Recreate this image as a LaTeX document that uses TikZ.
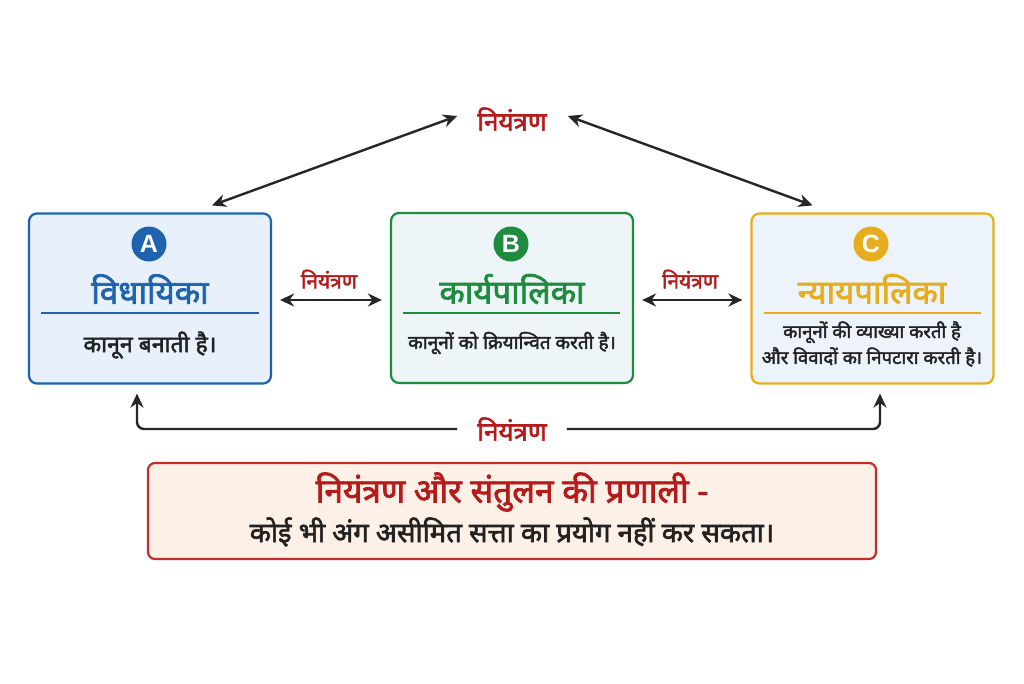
\documentclass[tikz,border=0pt]{standalone}
\usepackage{fontspec}
\setmainfont[Script=Devanagari, BoldFont={Noto Sans}, BoldFeatures={FakeBold=2.2}]{Noto Sans}
\newfontfamily\latin{Liberation Sans}
\usetikzlibrary{arrows.meta,positioning,calc}
\definecolor{blueB}{HTML}{1F63AE}
\definecolor{blueF}{HTML}{E8F1FB}
\definecolor{greenB}{HTML}{1E8B3F}
\definecolor{greenF}{HTML}{EEF5F8}
\definecolor{goldB}{HTML}{E6AE1E}
\definecolor{goldF}{HTML}{ECF3FA}
\definecolor{redT}{HTML}{B51B1B}
\definecolor{redB}{HTML}{C62A2A}
\definecolor{peach}{HTML}{FDF0E7}
\definecolor{txt}{HTML}{222222}
\tikzset{
  organ/.style={draw=#1, line width=2.2pt, rounded corners=8pt, minimum width=242pt, minimum height=170pt, inner sep=0pt},
  badge/.style={circle, fill=#1, minimum size=35pt, inner sep=0pt, text=white, font=\latin\bfseries\fontsize{25}{25}\selectfont},
  title/.style={text=#1, font=\bfseries\fontsize{33}{36}\selectfont, inner sep=0pt},
  desc/.style={text=txt, font=\bfseries\fontsize{19}{26}\selectfont, inner sep=0pt, align=center},
  ctl/.style={text=redT, font=\bfseries\fontsize{26}{28}\selectfont, inner sep=0pt},
  ctls/.style={text=redT, font=\bfseries\fontsize{21}{24}\selectfont, inner sep=0pt},
  dar/.style={{Stealth[length=14pt,width=13pt]}-{Stealth[length=14pt,width=13pt]}, line width=2.4pt, black!85},
  sar/.style={-{Stealth[length=14pt,width=13pt]}, line width=2.4pt, black!85},
}
\begin{document}
\begin{tikzpicture}[x=1pt,y=-1pt]
\useasboundingbox (0,0) rectangle (1024,683);
\fill[white] (0,0) rectangle (1024,683);
% boxes
\node[organ=blueB, fill=blueF] (A) at (150,298.5) {};
\node[organ=greenB, fill=greenF] (B) at (512,298) {};
\node[organ=goldB, fill=goldF] (C) at (872.5,298.5) {};
% badges
\node[badge=blueB] (bA) at (149,244) {A};
\node[badge=greenB] (bB) at (511,244) {B};
\node[badge=goldB] (bC) at (871,244) {C};
% titles
\node[title=blueB] (tA) at (150,289) {विधायिका};
\node[title=greenB] (tB) at (512,289) {कार्यपालिका};
\node[title=goldB] (tC) at (872,289) {न्यायपालिका};
% separators
\draw[blueB, line width=1.8pt] (41,313) -- (259,313);
\draw[greenB, line width=1.8pt] (403,313) -- (620,313);
\draw[goldB, line width=1.8pt] (764,313) -- (981,313);
% descriptions
\node[desc, font=\bfseries\fontsize{23}{26}\selectfont] (dA) at (150,345) {कानून बनाती है।};
\node[desc] (dB) at (512,343) {कानूनों को क्रियान्वित करती है।};
\node[desc, font=\bfseries\fontsize{18.5}{26}\selectfont] (dC) at (872,344) {कानूनों की व्याख्या करती है\\और विवादों का निपटारा करती है।};
% control labels
\node[ctl] (top) at (512,119) {नियंत्रण};
\node[ctls] (lAB) at (329,279) {नियंत्रण};
\node[ctls] (lBC) at (690,279) {नियंत्रण};
\node[ctl] (bot) at (512,429) {नियंत्रण};
% arrows
\draw[dar] ([xshift=62pt,yshift=7pt]A.north) -- ([xshift=-20pt,yshift=3pt]top.west);
\draw[dar] ([xshift=21pt,yshift=3pt]top.east) -- ([xshift=-60pt,yshift=7pt]C.north);
\draw[dar] ([xshift=8pt,yshift=-1.5pt]A.east) -- ([xshift=-8pt,yshift=-2pt]B.west);
\draw[dar] ([xshift=8pt,yshift=-2pt]B.east) -- ([xshift=-8pt,yshift=-1.5pt]C.west);
\draw[sar, rounded corners=7pt] ([xshift=-20pt]bot.west) -| ([xshift=-13pt,yshift=-9pt]A.south);
\draw[sar, rounded corners=7pt] ([xshift=20pt]bot.east) -| ([xshift=7.5pt,yshift=-9pt]C.south);
% bottom box
\node[draw=redB, fill=peach, line width=2.2pt, rounded corners=7pt, minimum width=728pt, minimum height=96pt] (S) at (512,511) {};
\node[text=redT, font=\bfseries\fontsize{33.5}{36}\selectfont, inner sep=0pt] (S1) at (512,492) {नियंत्रण और संतुलन की प्रणाली -};
\node[text=txt, font=\bfseries\fontsize{27.5}{30}\selectfont, inner sep=0pt] (S2) at (512,532) {कोई भी अंग असीमित सत्ता का प्रयोग नहीं कर सकता।};
\end{tikzpicture}
\end{document}
